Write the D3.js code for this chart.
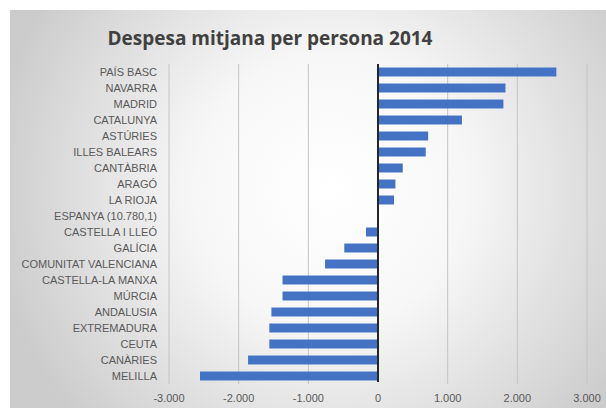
<!DOCTYPE html>
<html><head><meta charset="utf-8">
<script src="https://cdn.jsdelivr.net/npm/d3@7"></script>
<style>html,body{margin:0;padding:0;background:#fff;}svg{display:block;}</style>
</head><body>
<script>
const categories = ["PAÍS BASC","NAVARRA","MADRID","CATALUNYA","ASTÚRIES","ILLES BALEARS","CANTÀBRIA","ARAGÓ","LA RIOJA","ESPANYA (10.780,1)","CASTELLA I LLEÓ","GALÍCIA","COMUNITAT VALENCIANA","CASTELLA-LA MANXA","MÚRCIA","ANDALUSIA","EXTREMADURA","CEUTA","CANÀRIES","MELILLA"];
const values = [2560,1830,1800,1205,720,685,355,250,230,0,-172,-484,-760,-1370,-1370,-1530,-1560,-1560,-1865,-2555];
const tickValues = [-3000,-2000,-1000,0,1000,2000,3000];
const title = "Despesa mitjana per persona 2014";

const W = 606, H = 410;
const svg = d3.select("body").append("svg").attr("width", W).attr("height", H);
const defs = svg.append("defs");
const rg = defs.append("radialGradient").attr("id","bg").attr("gradientUnits","userSpaceOnUse")
  .attr("cx",330).attr("cy",190).attr("r",340);
rg.append("stop").attr("offset","0%").attr("stop-color","#ffffff");
rg.append("stop").attr("offset","40%").attr("stop-color","#f7f7f7");
rg.append("stop").attr("offset","100%").attr("stop-color","#cccccc");
svg.append("rect").attr("x",10).attr("y",10).attr("width",W).attr("height",398).attr("fill","url(#bg)");

const x = d3.scaleLinear().domain([-3000,3000]).range([169,587]);
const y = d3.scaleBand().domain(categories).range([64,384]).paddingInner(0.44).paddingOuter(0.22);

// gridlines
svg.append("g").selectAll("line").data(tickValues.filter(d=>d!==0)).join("line")
  .attr("x1",d=>x(d)).attr("x2",d=>x(d)).attr("y1",64).attr("y2",384)
  .attr("stroke","#c4c4c4").attr("stroke-width",1);

// bars
svg.append("g").selectAll("rect").data(categories).join("rect")
  .attr("x",(d,i)=>x(Math.min(0,values[i])))
  .attr("width",(d,i)=>Math.abs(x(values[i])-x(0)))
  .attr("y",d=>y(d)).attr("height",y.bandwidth())
  .attr("fill","#4472C4");

// zero axis
svg.append("line").attr("x1",x(0)).attr("x2",x(0)).attr("y1",64).attr("y2",382)
  .attr("stroke","#262626").attr("stroke-width",2);

// category labels
svg.append("g").selectAll("text").data(categories).join("text")
  .attr("x",157).attr("y",d=>y(d)+y.bandwidth()/2).attr("dy","0.35em")
  .attr("text-anchor","end").attr("font-family","Liberation Sans, Arial, sans-serif")
  .attr("font-size",11).attr("fill","#595959").text(d=>d);

// x tick labels
const fmt = d => d===0 ? "0" : (d<0?"-":"") + d3.format(",")(Math.abs(d)).replace(/,/g,".");
svg.append("g").selectAll("text").data(tickValues).join("text")
  .attr("x",d=>x(d)).attr("y",402).attr("text-anchor","middle")
  .attr("font-family","Liberation Sans, Arial, sans-serif").attr("font-size",11)
  .attr("fill","#595959").text(fmt);

// title
svg.append("text").attr("x",270).attr("y",45).attr("text-anchor","middle")
  .attr("font-family","Open Sans, Liberation Sans, sans-serif").attr("font-weight","bold")
  .attr("font-size",19).attr("fill","#404040").text(title);
</script>
</body></html>
